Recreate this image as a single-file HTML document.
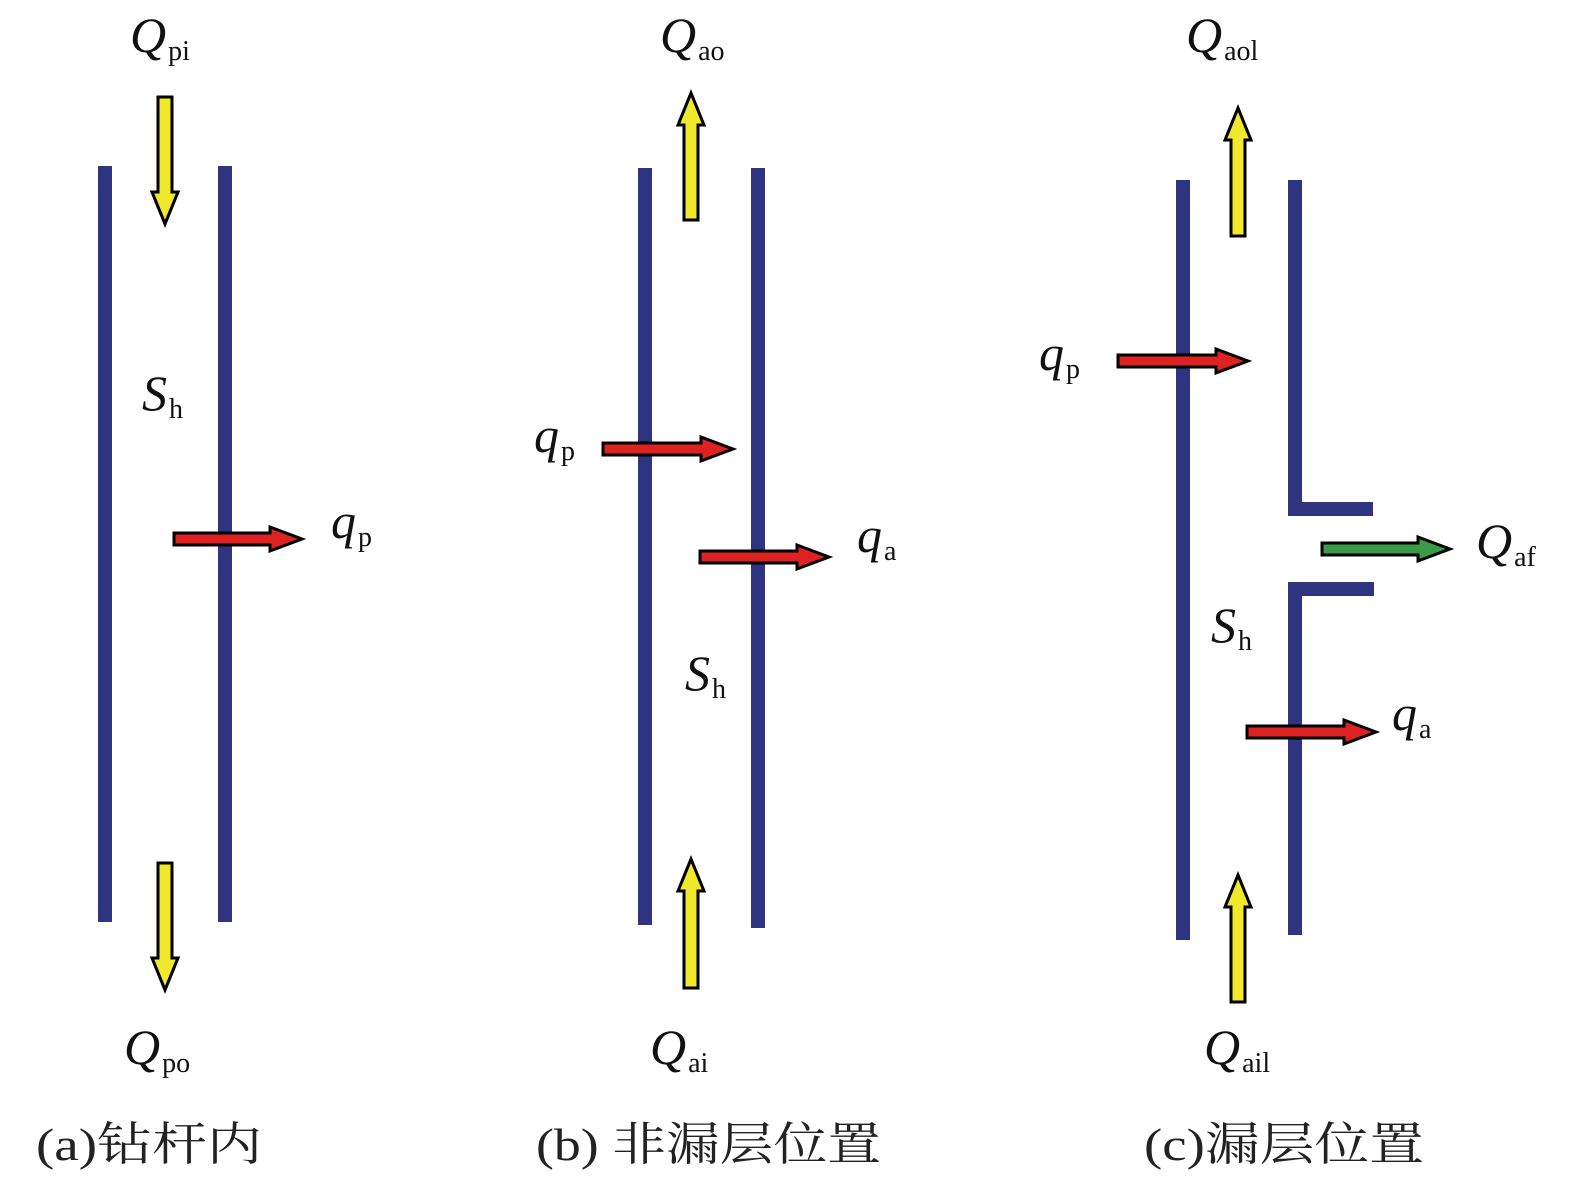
<!DOCTYPE html>
<html><head><meta charset="utf-8"><style>
html,body{margin:0;padding:0;background:#fff;}
svg{display:block}
.q{font-family:"Liberation Serif",serif;font-style:italic;font-size:50px;fill:#111}
.s{font-family:"Liberation Serif",serif;font-style:normal;font-size:28px;fill:#111}
.c{font-family:"Liberation Serif","Noto Serif CJK SC",serif;font-size:46px;fill:#222}
</style></head><body>
<svg width="1575" height="1187" viewBox="0 0 1575 1187" xmlns="http://www.w3.org/2000/svg">
<g fill="#2e3480">
<rect x="98" y="166" width="14" height="756"/>
<rect x="218" y="166" width="14" height="756"/>
<rect x="638" y="168" width="14" height="757"/>
<rect x="751" y="168" width="14" height="760"/>
<rect x="1176" y="180" width="14" height="760"/>
<rect x="1288" y="180" width="14" height="336"/>
<rect x="1288" y="502" width="85" height="14"/>
<rect x="1288" y="582" width="86" height="14"/>
<rect x="1288" y="582" width="14" height="353"/>
</g>
<g stroke="#000" stroke-width="3" stroke-linejoin="miter">
<polygon fill="#f0e82a" points="158,97 172,97 172,192 178,192 165,224 152,192 158,192"/>
<polygon fill="#f0e82a" points="158,863 172,863 172,958 178,958 165,990 152,958 158,958"/>
<polygon fill="#f0e82a" points="684,220 698,220 698,125 704,125 691,93 678,125 684,125"/>
<polygon fill="#f0e82a" points="684,988 698,988 698,891 704,891 691,859 678,891 684,891"/>
<polygon fill="#f0e82a" points="1231,236 1245,236 1245,140 1251,140 1238,108 1225,140 1231,140"/>
<polygon fill="#f0e82a" points="1231,1002 1245,1002 1245,907 1251,907 1238,875 1225,907 1231,907"/>
<polygon fill="#dd2222" points="174,533 270,533 270,527 302,539 270,551 270,545 174,545"/>
<polygon fill="#dd2222" points="603,443 701,443 701,437 733,449 701,461 701,455 603,455"/>
<polygon fill="#dd2222" points="700,551 797,551 797,545 829,557 797,569 797,563 700,563"/>
<polygon fill="#dd2222" points="1118,355 1216,355 1216,349 1248,361 1216,373 1216,367 1118,367"/>
<polygon fill="#dd2222" points="1247,726 1344,726 1344,720 1376,732 1344,744 1344,738 1247,738"/>
<polygon fill="#3a9a48" points="1322,543 1418,543 1418,537 1450,549 1418,561 1418,555 1322,555"/>
</g>
<text class="q" x="130" y="52">Q<tspan class="s" dx="2" dy="8">pi</tspan></text>
<text class="q" x="124" y="1064">Q<tspan class="s" dx="2" dy="8">po</tspan></text>
<text class="q" x="142" y="410">S<tspan class="s" dx="2" dy="8">h</tspan></text>
<text class="q" x="331" y="538">q<tspan class="s" dx="2" dy="8">p</tspan></text>
<text class="q" x="660" y="52">Q<tspan class="s" dx="2" dy="8">ao</tspan></text>
<text class="q" x="650" y="1064">Q<tspan class="s" dx="2" dy="8">ai</tspan></text>
<text class="q" x="534" y="452">q<tspan class="s" dx="2" dy="8">p</tspan></text>
<text class="q" x="857" y="552">q<tspan class="s" dx="2" dy="8">a</tspan></text>
<text class="q" x="685" y="690">S<tspan class="s" dx="2" dy="8">h</tspan></text>
<text class="q" x="1186" y="52">Q<tspan class="s" dx="2" dy="8">aol</tspan></text>
<text class="q" x="1204" y="1064">Q<tspan class="s" dx="2" dy="8">ail</tspan></text>
<text class="q" x="1039" y="370">q<tspan class="s" dx="2" dy="8">p</tspan></text>
<text class="q" x="1476" y="558">Q<tspan class="s" dx="2" dy="8">af</tspan></text>
<text class="q" x="1211" y="642">S<tspan class="s" dx="2" dy="8">h</tspan></text>
<text class="q" x="1392" y="730">q<tspan class="s" dx="2" dy="8">a</tspan></text>
<text class="c" x="36" y="1160" textLength="226" lengthAdjust="spacingAndGlyphs">(a)钻杆内</text>
<text class="c" x="536" y="1160" textLength="345" lengthAdjust="spacingAndGlyphs">(b) 非漏层位置</text>
<text class="c" x="1144" y="1160" textLength="280" lengthAdjust="spacingAndGlyphs">(c)漏层位置</text>
</svg>
</body></html>
